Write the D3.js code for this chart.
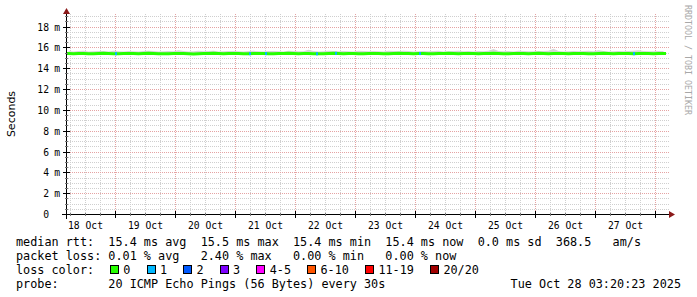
<!DOCTYPE html>
<html><head><meta charset="utf-8">
<script src="https://cdn.jsdelivr.net/npm/d3@7"></script>
<style>
html,body{margin:0;padding:0;background:#fff;}
svg{display:block;}
.mono{font-family:"DejaVu Sans Mono",monospace;}
</style></head>
<body>
<div id="chart"></div>
<script>
// ---------- DATA ----------
const startTime = "2025-10-18T04:12:00Z";
const endTime   = "2025-10-28T04:12:00Z";
const stepHours = 2;
// median RTT in ms, one value every 2 hours
const medianMs = [
15.45,15.44,15.46,15.45,15.43,15.44,15.46,15.47,15.45,15.44,15.43,15.45,15.46,15.45,15.44,15.45,15.47,15.46,15.44,15.43,
15.44,15.45,15.46,15.45,15.44,15.42,15.43,15.45,15.46,15.47,15.45,15.44,15.45,15.46,15.45,15.43,15.44,15.45,15.46,15.45,
15.44,15.43,15.45,15.46,15.47,15.46,15.44,15.45,15.45,15.44,15.43,15.44,15.46,15.47,15.45,15.44,15.45,15.46,15.44,15.43,
15.45,15.46,15.45,15.44,15.43,15.45,15.47,15.46,15.45,15.44,15.45,15.46,15.44,15.43,15.45,15.46,15.47,15.45,15.44,15.45,
15.46,15.45,15.44,15.45,15.46,15.47,15.45,15.43,15.44,15.45,15.46,15.45,15.44,15.45,15.47,15.46,15.44,15.45,15.46,15.45,
15.44,15.45,15.46,15.45,15.43,15.44,15.46,15.47,15.45,15.44,15.45,15.46,15.45,15.44,15.45,15.46,15.45,15.44,15.45,15.46];
// upper edge of the smoke (ms)
const smokeHiMs = [
15.68,15.66,15.70,15.72,15.65,15.67,15.70,15.69,15.66,15.71,15.68,15.66,15.70,15.67,15.65,15.69,15.72,15.70,15.66,15.68,
15.70,15.67,15.76,15.69,15.66,15.68,15.71,15.67,15.70,15.72,15.66,15.68,15.70,15.69,15.67,15.66,15.70,15.71,15.68,15.66,
15.69,15.70,15.67,15.66,15.72,15.70,15.68,15.67,15.82,15.70,15.66,15.68,15.71,15.69,15.67,15.70,15.68,15.66,15.72,15.69,
15.67,15.70,15.68,15.66,15.71,15.69,15.67,15.72,15.70,15.66,15.68,15.70,15.67,15.69,15.71,15.66,15.68,15.70,15.72,15.67,
15.69,15.66,15.70,15.68,15.71,15.90,15.70,15.67,15.69,15.66,15.72,15.70,15.68,15.67,15.70,15.69,15.72,15.92,15.70,15.66,
15.68,15.70,15.67,15.69,15.71,15.68,15.78,15.70,15.66,15.68,15.70,15.67,15.69,15.72,15.78,15.70,15.67,15.68,15.70,15.69];
// lower edge of the smoke (ms)
const smokeLoMs = 15.32;
// packet-loss events: [time, lost pings]
const lossEvents = [
["2025-10-19T00:10:00Z",1],["2025-10-21T05:40:00Z",1],["2025-10-21T12:05:00Z",1],
["2025-10-22T08:30:00Z",1],["2025-10-22T16:05:00Z",1],["2025-10-24T01:40:00Z",1],
["2025-10-27T15:20:00Z",1]];
// y axis ticks (ms)
const yMaxMs = 19.2;
const yMajorMs = [0,2,4,6,8,10,12,14,16,18];
const yMinorStepMs = 0.5;
// x axis day labels
const dayLabels = ["18 Oct","19 Oct","20 Oct","21 Oct","22 Oct","23 Oct","24 Oct","25 Oct","26 Oct","27 Oct"];
const dayDates  = ["2025-10-18","2025-10-19","2025-10-20","2025-10-21","2025-10-22","2025-10-23","2025-10-24","2025-10-25","2025-10-26","2025-10-27"];
// loss colour legend
const lossLabels = ["0","1","2","3","4-5","6-10","11-19","20/20"];
const lossMax    = [0,1,2,3,5,10,19,20];
const lossColors = ["#26ff00","#00b8ff","#0059ff","#7e00ff","#ff00ff","#ff5500","#ff0000","#a10000"];
const legendRows = [
"median rtt:  15.4 ms avg  15.5 ms max  15.4 ms min  15.4 ms now  0.0 ms sd  368.5   am/s",
"packet loss: 0.01 % avg   2.40 % max   0.00 % min   0.00 % now",
"loss color:",
"probe:       20 ICMP Echo Pings (56 Bytes) every 30s"];
const dateStamp = "Tue Oct 28 03:20:23 2025";
const yTitle = "Seconds";
const watermark = "RRDTOOL / TOBI OETIKER";

// ---------- DRAW ----------
const W = 697, H = 297;
const svg = d3.select("#chart").append("svg").attr("width", W).attr("height", H);
const t0 = new Date(startTime), t1 = new Date(endTime);
const x = d3.scaleUtc().domain([t0, t1]).range([66, 666]);
const y = d3.scaleLinear().domain([0, yMaxMs]).range([214.5, 14.5]);
const cx = v => Math.floor(x(v)) + 0.5;
const cy = v => Math.round(y(v) - 0.5) + 0.5;

const gGrid = svg.append("g").attr("shape-rendering", "crispEdges");
const yMinor = d3.range(yMinorStepMs, yMaxMs, yMinorStepMs).filter(v => Math.abs(v/2 - Math.round(v/2)) > 1e-6);
gGrid.selectAll(".hmin").data(yMinor).join("line")
  .attr("x1", 66).attr("x2", 669).attr("y1", cy).attr("y2", cy)
  .attr("stroke", "#cfcfcf").attr("stroke-dasharray", "1,1");
const vMinor = d3.utcHour.every(6).range(t0, t1).filter(d => d.getUTCHours() !== 0);
gGrid.selectAll(".vmin").data(vMinor).join("line")
  .attr("x1", cx).attr("x2", cx).attr("y1", 14).attr("y2", 214)
  .attr("stroke", "#cfcfcf").attr("stroke-dasharray", "1,1");
gGrid.selectAll(".hmaj").data(yMajorMs.filter(v => v > 0)).join("line")
  .attr("x1", 66).attr("x2", 669).attr("y1", cy).attr("y2", cy)
  .attr("stroke", "#e5a3a3").attr("stroke-dasharray", "1,1");
const days = d3.utcDay.range(t0, t1);
gGrid.selectAll(".vmaj").data(days.filter(d => x(d) > 67)).join("line")
  .attr("x1", cx).attr("x2", cx).attr("y1", 14).attr("y2", 214)
  .attr("stroke", "#e5a3a3").attr("stroke-dasharray", "1,1");

// smoke
const times = medianMs.map((_, i) => new Date(t0.getTime() + i * stepHours * 3600e3 + 3600e3));
const smoke = d3.area().x((d, i) => x(times[i])).y0(y(smokeLoMs)).y1(d => y(d));
svg.append("path").datum(smokeHiMs).attr("d", smoke).attr("fill", "#d6d6d6");

// median line
const medPts = [medianMs[0]].concat(medianMs).concat([medianMs[medianMs.length-1]]);
const medTimes = [t0].concat(times).concat([t1]);
svg.append("path").datum(medPts)
  .attr("d", d3.line().x((d, i) => x(medTimes[i])).y(d => y(d)))
  .attr("fill", "none").attr("stroke", lossColors[0]).attr("stroke-width", 3);

// loss colouring
const lossColor = n => lossColors[lossMax.findIndex(m => n <= m)];
const medAt = t => medianMs[Math.min(medianMs.length - 1, Math.max(0, Math.round((t - t0 - 3600e3) / (stepHours * 3600e3))))];
svg.selectAll(".loss").data(lossEvents).join("rect")
  .attr("x", d => Math.floor(x(new Date(d[0]))))
  .attr("width", 2)
  .attr("y", d => y(medAt(new Date(d[0]))) - 1.5)
  .attr("height", 3)
  .attr("fill", d => lossColor(d[1]));

// axes
const gAx = svg.append("g").attr("shape-rendering", "crispEdges");
gAx.append("line").attr("x1", 62).attr("x2", 669).attr("y1", 214.5).attr("y2", 214.5).attr("stroke", "#000");
gAx.append("line").attr("x1", 66.5).attr("x2", 66.5).attr("y1", 219).attr("y2", 12).attr("stroke", "#000");
gAx.selectAll(".ytm").data(yMajorMs.filter(v => v > 0)).join("line")
  .attr("x1", 63).attr("x2", 70).attr("y1", cy).attr("y2", cy).attr("stroke", "#000");
gAx.selectAll(".yti").data(yMinor).join("line")
  .attr("x1", 65).attr("x2", 68).attr("y1", cy).attr("y2", cy).attr("stroke", "#777");
gAx.selectAll(".xtm").data(days.filter(d => x(d) > 67)).join("line")
  .attr("x1", cx).attr("x2", cx).attr("y1", 211).attr("y2", 218).attr("stroke", "#000");
gAx.selectAll(".xti").data(vMinor).join("line")
  .attr("x1", cx).attr("x2", cx).attr("y1", 213).attr("y2", 216).attr("stroke", "#777");
svg.append("path").attr("d", "M669,211 L675,214.5 L669,218 Z").attr("fill", "#8b1a1a");
svg.append("path").attr("d", "M63,14 L66.5,8 L70,14 Z").attr("fill", "#8b1a1a");

// y labels
const gy = svg.append("g").attr("class", "mono").attr("font-size", "9.7px").attr("fill", "#000");
gy.selectAll(".yn").data(yMajorMs).join("text")
  .attr("x", 49).attr("y", d => y(d) + 3.5).attr("text-anchor", "end")
  .text(d => d3.format("d")(d));
gy.selectAll(".yu").data(yMajorMs.filter(v => v > 0)).join("text")
  .attr("x", 54.2).attr("y", d => y(d) + 3.5).text("m");

// x labels at noon of each day
svg.append("g").attr("class", "mono").attr("font-size", "9.7px").attr("fill", "#000")
  .selectAll("text").data(dayLabels).join("text")
  .attr("x", (d, i) => x(new Date(dayDates[i] + "T12:00:00Z")))
  .attr("y", 228.5).attr("text-anchor", "middle")
  .text(d => d);

// y title
svg.append("text").attr("transform", "translate(14.5,114) rotate(-90)")
  .attr("text-anchor", "middle").attr("font-family", "DejaVu Sans, sans-serif")
  .attr("font-size", "11px").attr("fill", "#000").text(yTitle);

// watermark
svg.append("text").attr("class", "mono").attr("transform", "translate(685,5) rotate(90)")
  .attr("font-size", "8.3px").attr("fill", "#a8a8a8").text(watermark);

// legend text
const gl = svg.append("g").attr("class", "mono").attr("font-size", "11.8px").attr("fill", "#000");
const rowY = [245.5, 259.5, 273.5, 287.5];
gl.selectAll(".row").data(legendRows).join("text")
  .attr("x", 16).attr("y", (d, i) => rowY[i]).attr("xml:space", "preserve")
  .style("white-space", "pre").text(d => d);
gl.append("text").attr("x", 681).attr("y", rowY[3]).attr("text-anchor", "end").text(dateStamp);

// loss colour boxes
const charW = 7.1;
let cur = 110;
lossLabels.forEach((lab, i) => {
  svg.append("rect").attr("x", cur + 0.5).attr("y", 265.5).attr("width", 8).attr("height", 8)
    .attr("fill", lossColors[i]).attr("stroke", "#000").attr("shape-rendering", "crispEdges");
  gl.append("text").attr("x", cur + 13.3).attr("y", rowY[2]).text(lab);
  cur = cur + 13.3 + lab.length * charW + 16.2;
});
</script>
</body></html>
